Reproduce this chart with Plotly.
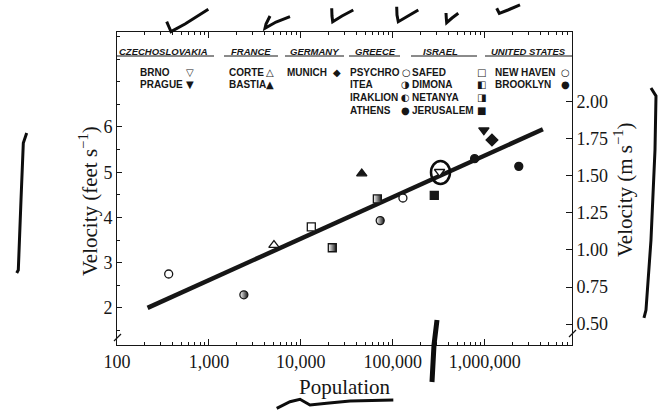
import plotly.graph_objects as go

FT_PER_M = 3.2808

# Walking velocity (feet per second) against city population
cities = ["Psychro", "Itea", "Corte", "Safed", "Dimona", "Bastia", "Netanya", "Iraklion",
          "New Haven", "Jerusalem", "Brno", "Athens", "Prague", "Munich", "Brooklyn"]
population = [365, 2400, 5100, 13000, 22000, 46000, 68000, 73000,
              129000, 283000, 323000, 777000, 980000, 1200000, 2350000]
velocity = [2.75, 2.29, 3.39, 3.79, 3.33, 4.97, 4.41, 3.93,
            4.43, 4.49, 5.01, 5.30, 5.93, 5.71, 5.13]

# Trend line through the cloud of cities
trend_pop = [215, 4300000]
trend_vel = [2.0, 5.95]

x_tick_vals = [100, 1000, 10000, 100000, 1000000]
x_tick_text = ["100", "1,000", "10,000", "100,000", "1,000,000"]
ft_tick_vals = [2, 3, 4, 5, 6]
ms_tick_vals = [0.50, 0.75, 1.00, 1.25, 1.50, 1.75, 2.00]

INK = "#161616"
SERIF = "Liberation Serif, Times New Roman, serif"
SANS = "Liberation Sans, Arial, sans-serif"

# Plot symbol for each city: (symbol, fill, half-shaded)
marker_style = {
    "Psychro": ("circle", "white", False), "New Haven": ("circle", "white", False),
    "Athens": ("circle", INK, False), "Brooklyn": ("circle", INK, False),
    "Itea": ("circle", "white", True), "Iraklion": ("circle", "white", True),
    "Corte": ("triangle-up", "white", False), "Bastia": ("triangle-up", INK, False),
    "Brno": ("triangle-down", "white", False), "Prague": ("triangle-down", INK, False),
    "Munich": ("diamond", INK, False),
    "Safed": ("square", "white", False), "Jerusalem": ("square", INK, False),
    "Dimona": ("square", "white", True), "Netanya": ("square", "white", True),
}

fig = go.Figure()

fig.add_trace(go.Scatter(x=trend_pop, y=trend_vel, mode="lines",
                         line=dict(color=INK, width=4.5), hoverinfo="skip"))

for c, p, v in zip(cities, population, velocity):
    sym, fill, half = marker_style[c]
    size = 8 if sym in ("circle", "square") else 9
    marker = dict(symbol=sym, size=size, color=fill, line=dict(color=INK, width=1.3))
    if half:
        marker["gradient"] = dict(type="horizontal", color=INK)
    fig.add_trace(go.Scatter(x=[p], y=[v], mode="markers", marker=marker, name=c))

# secondary axis in metres per second
fig.add_trace(go.Scatter(x=[population[0]], y=[velocity[0] / FT_PER_M], yaxis="y2",
                         mode="markers", marker=dict(opacity=0), hoverinfo="skip"))

# plot-area geometry in pixels
L, T, R, B = 117, 32, 572, 345


def paper(x, y):
    return (x - L) / (R - L), (B - y) / (B - T)


def stroke_path(points):
    parts = []
    for i, (x, y) in enumerate(points):
        px, py = paper(x, y)
        parts.append(("M" if i == 0 else "L") + f"{px:.4f},{py:.4f}")
    return " ".join(parts)


def label(x, y, text, size, family, anchor="center", angle=0):
    px, py = paper(x, y)
    return dict(x=px, y=py, xref="paper", yref="paper", text=text, showarrow=False,
                xanchor=anchor, yanchor="middle", textangle=angle,
                font=dict(family=family, size=size, color=INK))


ann = []
shapes = []

# legend table: country headers
headers = [("CZECHOSLOVAKIA", 163.5, 117, 214), ("FRANCE", 250.5, 224, 278),
           ("GERMANY", 314.5, 285, 344), ("GREECE", 375, 349, 400),
           ("ISRAEL", 440, 411, 477), ("UNITED STATES", 528.5, 485, 572)]
for name, cx, x0, x1 in headers:
    ann.append(label(cx, 51, f"<b><i>{name}</i></b>", 9.5, SANS))
    shapes.append(dict(type="path", xref="paper", yref="paper",
                       path=stroke_path([(x0, 56), (x1, 56)]),
                       line=dict(color=INK, width=1)))

# legend table: cities and their symbols
rows = [("BRNO", 138, 72, "▽", 190), ("PRAGUE", 138, 84, "▼", 190),
        ("CORTE", 227, 72, "△", 270), ("BASTIA", 227, 84, "▲", 270),
        ("MUNICH", 285, 72, "◆", 337),
        ("PSYCHRO", 348, 72, "○", 406), ("ITEA", 348, 84, "◑", 405),
        ("IRAKLION", 348, 97, "◐", 405), ("ATHENS", 348, 110, "●", 405),
        ("SAFED", 410, 72, "□", 481), ("DIMONA", 410, 84, "◧", 481),
        ("NETANYA", 410, 97, "◨", 481), ("JERUSALEM", 410, 110, "■", 481),
        ("NEW HAVEN", 493, 72, "○", 565), ("BROOKLYN", 493, 84, "●", 565)]
for text, tx, ty, sym, sx in rows:
    ann.append(label(tx, ty, f"<b>{text}</b>", 10, SANS, anchor="left"))
    ann.append(label(sx, ty, sym, 10, "DejaVu Sans"))

# axis titles
ann.append(label(88, 201, "Velocity (feet s<sup>−1</sup>)", 21, SERIF, angle=-90))
ann.append(label(623, 190, "Velocity (m s<sup>−1</sup>)", 21, SERIF, angle=-90))
ann.append(label(345, 387, "Population", 21, SERIF))

# axis break marks
for pts in ([(114, 341), (121, 334)], [(569, 337), (576, 330)]):
    shapes.append(dict(type="path", xref="paper", yref="paper", path=stroke_path(pts),
                       line=dict(color=INK, width=1.2)))

# pen marks added over the printed figure
pen = [
    [(166.7, 21.7), (169, 27), (171, 31.7), (185, 24), (208.3, 9.3)],
    [(270, 16), (266, 24), (265, 28.3), (276, 22), (290, 16.7)],
    [(331.7, 8.3), (332, 16), (332.7, 21.7), (342, 16), (353.3, 10)],
    [(396.7, 6.7), (397, 15), (398.3, 21.7), (408, 16), (418.3, 10)],
    [(446, 13), (446.3, 18), (446.7, 22.7), (452, 18), (458.3, 13.3)],
    [(496.7, 8.3), (499.3, 13.3), (508, 10), (520, 5)],
    [(26.7, 133), (23.3, 143), (21, 200), (18.3, 270), (16.7, 273)],
    [(651, 88), (656, 96), (655, 150), (651, 240), (646, 310), (644, 318)],
    [(276.7, 408.3), (290, 401.7), (300, 399.3), (310, 405), (326.7, 403.3),
     (350, 401), (393.3, 400)],
]
for pts in pen:
    shapes.append(dict(type="path", xref="paper", yref="paper", path=stroke_path(pts),
                       line=dict(color="#0d0d0d", width=3)))
shapes.append(dict(type="path", xref="paper", yref="paper",
                   path=stroke_path([(437, 320), (434, 345), (432, 382)]),
                   line=dict(color="#0d0d0d", width=5)))
x0, y0 = paper(431, 161)
x1, y1 = paper(450, 184)
shapes.append(dict(type="circle", xref="paper", yref="paper", x0=x0, y0=y1, x1=x1, y1=y0,
                   line=dict(color="#0d0d0d", width=2.5)))

axis_common = dict(showline=True, linecolor=INK, linewidth=1, ticks="inside",
                   tickcolor=INK, showgrid=False, zeroline=False,
                   tickfont=dict(family=SERIF, size=18, color=INK))

minor_x = [m * 10 ** d for d in range(2, 7) for m in range(2, 10)]

fig.update_layout(
    width=658, height=412,
    margin=dict(l=L, r=658 - R, t=T, b=412 - B),
    paper_bgcolor="white", plot_bgcolor="white",
    showlegend=False,
    xaxis=dict(type="log", range=[2, 6.95], tickmode="array",
               tickvals=x_tick_vals, ticktext=x_tick_text, ticklen=6,
               mirror="ticks",
               minor=dict(tickmode="array", tickvals=minor_x, ticks="inside",
                          ticklen=3, tickcolor=INK, showgrid=False),
               **axis_common),
    yaxis=dict(range=[1.18, 8.1], tickmode="array", tickvals=ft_tick_vals, ticklen=5,
               minor=dict(dtick=0.5, ticks="inside", ticklen=3, tickcolor=INK, showgrid=False),
               **axis_common),
    yaxis2=dict(overlaying="y", side="right", range=[1.18 / FT_PER_M, 8.1 / FT_PER_M],
                tickmode="array", tickvals=ms_tick_vals,
                ticktext=[f"{v:.2f}" for v in ms_tick_vals], ticklen=6,
                **axis_common),
    annotations=ann,
    shapes=shapes,
)

fig.write_html("out.html")
